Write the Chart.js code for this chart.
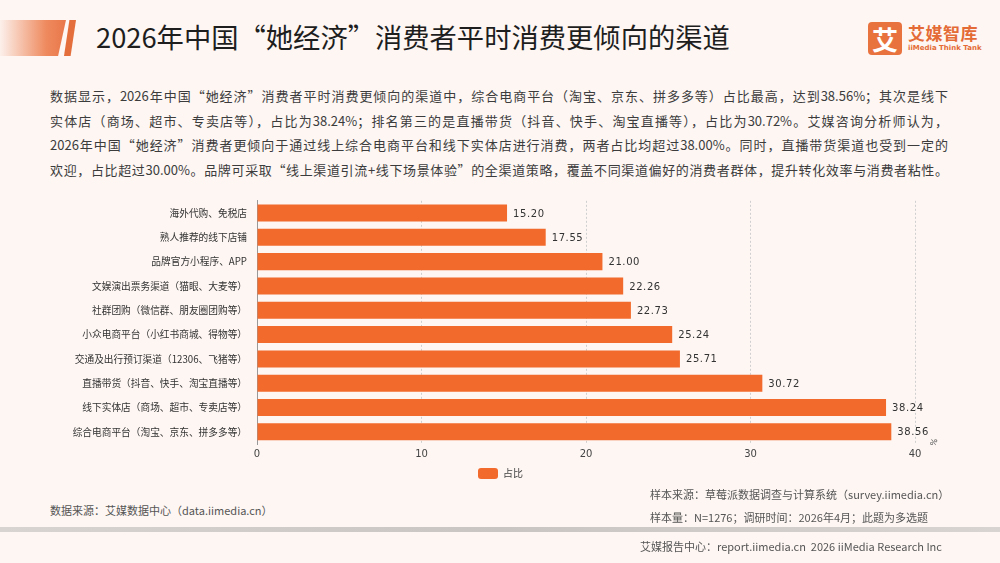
<!DOCTYPE html>
<html>
<head>
<meta charset="utf-8">
<script src="https://cdn.jsdelivr.net/npm/chart.js@4.4.1/dist/chart.umd.min.js"></script>
<style>
  html, body { margin: 0; padding: 0; }
  body {
    width: 1000px; height: 563px; position: relative; overflow: hidden;
    background: #fdf6f3;
    font-family: "Noto Sans CJK SC", "Noto Sans", sans-serif;
  }
  .strip {
    position: absolute; left: 0; top: 20px; width: 66px; height: 36px;
    background: linear-gradient(to right, rgba(240,130,90,0.05), #ee8a5e 70%, #e9774a);
    clip-path: polygon(0 0, 100% 0, 88% 100%, 0 100%);
  }
  .slash {
    position: absolute; left: 64px; top: 20px; width: 12px; height: 36px;
    background: #e46f3d;
    clip-path: polygon(45% 0, 100% 0, 55% 100%, 0 100%);
  }
  .title {
    position: absolute; left: 96px; top: 16px; font-size: 27.3px; color: #1e1e1e;
    line-height: 40px; white-space: nowrap;
  }
  .logo { position: absolute; left: 868px; top: 22px; width: 120px; height: 36px; }
  .logo .box {
    position: absolute; left: 0; top: 0; width: 34px; height: 33px; border-radius: 4px;
    background: #e9733f; color: #fff; font-size: 26px; font-weight: bold; text-align: center; line-height: 33px;
  }
  .logo .cn { position: absolute; left: 40px; top: -2px; font-size: 17px; font-weight: bold; color: #e46b36; letter-spacing: 0.5px; }
  .logo .en { position: absolute; left: 40px; top: 22px; font-size: 7px; font-weight: bold; color: #e46b36; font-family: "DejaVu Sans", sans-serif; }
  .para { position: absolute; left: 50px; top: 84px; width: 898px; font-size: 13px; color: #3c3c3c; }
  .para div { line-height: 24.6px; text-align: justify; text-align-last: justify; white-space: nowrap; }
  #wrap { position: absolute; left: 0; top: 185px; width: 1000px; height: 304px; }
  .src { position: absolute; font-size: 11px; color: #555; white-space: nowrap; }
  .sep {
    position: absolute; left: 0; top: 527px; width: 1000px; height: 5px;
    background: linear-gradient(to right, #d8d4d2, #c8c5c3 50%, #d8d4d2);
  }
</style>
</head>
<body>
<div class="strip"></div>
<div class="slash"></div>
<div class="title">2026年中国“她经济”消费者平时消费更倾向的渠道</div>
<div class="logo">
  <div class="box">艾</div>
  <div class="cn">艾媒智库</div>
  <div class="en">iiMedia Think Tank</div>
</div>
<div class="para">
  <div>数据显示，2026年中国“她经济”消费者平时消费更倾向的渠道中，综合电商平台（淘宝、京东、拼多多等）占比最高，达到38.56%；其次是线下</div>
  <div>实体店（商场、超市、专卖店等），占比为38.24%；排名第三的是直播带货（抖音、快手、淘宝直播等），占比为30.72%。艾媒咨询分析师认为，</div>
  <div>2026年中国“她经济”消费者更倾向于通过线上综合电商平台和线下实体店进行消费，两者占比均超过38.00%。同时，直播带货渠道也受到一定的</div>
  <div>欢迎，占比超过30.00%。品牌可采取“线上渠道引流+线下场景体验”的全渠道策略，覆盖不同渠道偏好的消费者群体，提升转化效率与消费者粘性。</div>
</div>
<div id="wrap"><canvas id="c"></canvas></div>
<div class="src" style="left:50px; top:502px;">数据来源：艾媒数据中心（data.iimedia.cn）</div>
<div class="src" style="left:650px; top:486px;">样本来源：草莓派数据调查与计算系统（survey.iimedia.cn）</div>
<div class="src" style="left:650px; top:509px;">样本量：N=1276；调研时间：2026年4月；此题为多选题</div>
<div class="sep"></div>
<div class="src" style="left:640px; top:538px;">艾媒报告中心：report.iimedia.cn&nbsp;&nbsp;2026 iiMedia Research Inc</div>

<script>
// channels, top to bottom as in the picture
const channels = [
  '海外代购、免税店',
  '熟人推荐的线下店铺',
  '品牌官方小程序、APP',
  '文娱演出票务渠道（猫眼、大麦等）',
  '社群团购（微信群、朋友圈团购等）',
  '小众电商平台（小红书商城、得物等）',
  '交通及出行预订渠道（12306、飞猪等）',
  '直播带货（抖音、快手、淘宝直播等）',
  '线下实体店（商场、超市、专卖店等）',
  '综合电商平台（淘宝、京东、拼多多等）'
];
const shares = [15.20, 17.55, 21.00, 22.26, 22.73, 25.24, 25.71, 30.72, 38.24, 38.56];
const xTicks = [0, 10, 20, 30, 40];
const seriesName = '占比';
const barColor = '#f26a2c';

// value labels at the end of each bar, plus the little % unit
const valueLabels = {
  id: 'valueLabels',
  afterLayout(chart) {
    // legend sits under the page centre, not the plot centre
    if (chart.legend) { chart.legend.left += 43; chart.legend.right += 43; }
  },
  afterDatasetsDraw(chart) {
    const ctx = chart.ctx;
    const meta = chart.getDatasetMeta(0);
    ctx.save();
    ctx.font = '10px "DejaVu Sans", sans-serif';
    ctx.fillStyle = '#333';
    ctx.textBaseline = 'middle';
    ctx.letterSpacing = '0.6px';
    meta.data.forEach((bar, i) => {
      ctx.fillText(shares[i].toFixed(2), bar.x + 6, bar.y + 1);
    });
    const a = chart.chartArea;
    ctx.translate(a.right + 18, a.bottom + 2);
    ctx.rotate(-Math.PI / 2.6);
    ctx.font = '8px "DejaVu Sans", sans-serif';
    ctx.fillStyle = '#555';
    ctx.fillText('%', 0, 0);
    ctx.restore();
  }
};

new Chart(document.getElementById('c'), {
  type: 'bar',
  data: {
    labels: channels,
    datasets: [{
      label: seriesName,
      data: shares,
      backgroundColor: barColor,
      borderWidth: 0,
      categoryPercentage: 0.7,
      barPercentage: 1
    }]
  },
  options: {
    indexAxis: 'y',
    responsive: true,
    maintainAspectRatio: false,
    animation: false,
    layout: { padding: { top: 6, right: 85, bottom: 0, left: 0 } },
    plugins: {
      tooltip: { enabled: false },
      legend: {
        position: 'bottom',
        labels: {
          boxWidth: 20, boxHeight: 11, color: '#444',
          font: { size: 10, family: '"Noto Sans CJK SC", sans-serif' },
          padding: 4,
          useBorderRadius: true, borderRadius: 3
        }
      }
    },
    scales: {
      x: {
        min: 0, max: 40,
        afterBuildTicks(axis) { axis.ticks = xTicks.map(v => ({ value: v })); },
        grid: { color: '#cfcfcf', drawTicks: false, tickLength: 0 },
        border: { display: false, dash: [2, 2] },
        ticks: { color: '#444', padding: 4, font: { size: 10, family: '"DejaVu Sans", sans-serif' } }
      },
      y: {
        afterFit(axis) { axis.width = 257; },
        grid: { display: false, drawTicks: false },
        border: { color: '#999', width: 1 },
        ticks: { color: '#333', padding: 10, font: { size: 9.7, family: '"Noto Sans CJK SC", sans-serif' } }
      }
    }
  },
  plugins: [valueLabels]
});
</script>
</body>
</html>
